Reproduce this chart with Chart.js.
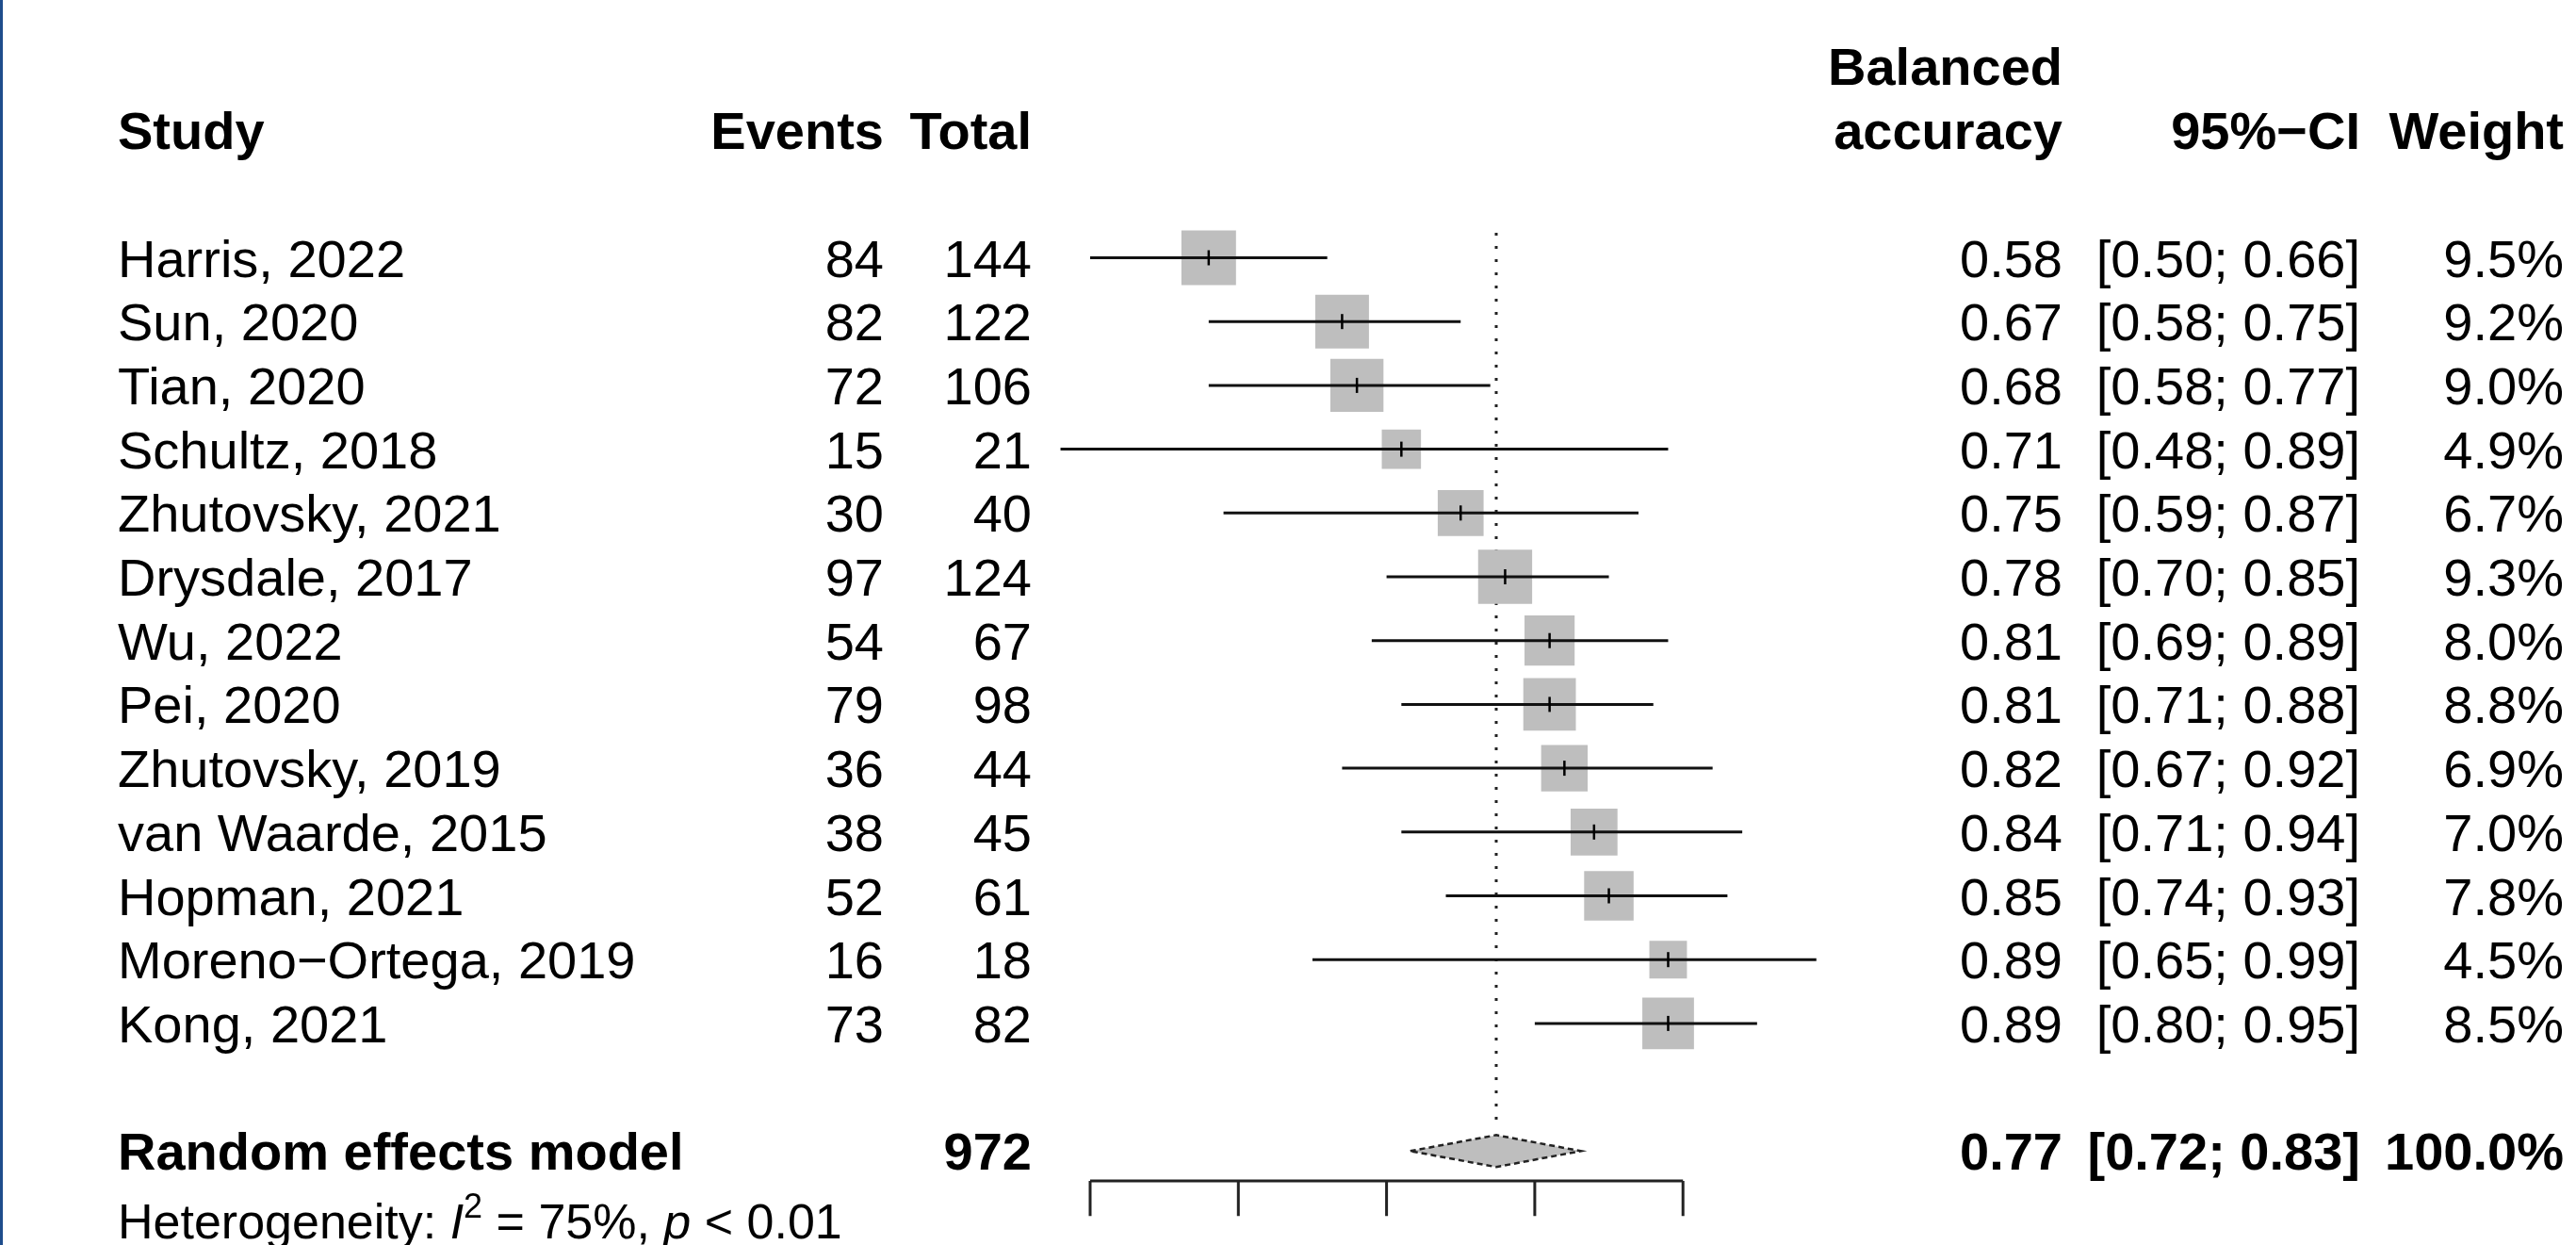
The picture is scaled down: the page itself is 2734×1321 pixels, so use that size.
<!DOCTYPE html>
<html>
<head>
<meta charset="utf-8">
<title>Forest plot - balanced accuracy</title>
<script src="https://cdn.jsdelivr.net/npm/chart.js@4.4.1/dist/chart.umd.min.js"></script>
<style>
html, body { margin: 0; padding: 0; background: #fff; overflow: hidden; }
#wrap { position: relative; width: 2734px; height: 1321px; }
#edge { position: absolute; left: 0; top: 0; width: 3px; height: 1321px; background: #1e4d8c; }
</style>
</head>
<body>
<div id="wrap">
  <canvas id="forest"></canvas>
  <div id="edge"></div>
</div>
<script>
// study data, top to bottom
const studies = ["Harris, 2022", "Sun, 2020", "Tian, 2020", "Schultz, 2018", "Zhutovsky, 2021",
    "Drysdale, 2017", "Wu, 2022", "Pei, 2020", "Zhutovsky, 2019", "van Waarde, 2015",
    "Hopman, 2021", "Moreno\u2212Ortega, 2019", "Kong, 2021"];
const events = [84, 82, 72, 15, 30, 97, 54, 79, 36, 38, 52, 16, 73];
const totals = [144, 122, 106, 21, 40, 124, 67, 98, 44, 45, 61, 18, 82];
const estimate = [0.58, 0.67, 0.68, 0.71, 0.75, 0.78, 0.81, 0.81, 0.82, 0.84, 0.85, 0.89, 0.89];
const lower = [0.50, 0.58, 0.58, 0.48, 0.59, 0.70, 0.69, 0.71, 0.67, 0.71, 0.74, 0.65, 0.80];
const upper = [0.66, 0.75, 0.77, 0.89, 0.87, 0.85, 0.89, 0.88, 0.92, 0.94, 0.93, 0.99, 0.95];
const weights = [9.5, 9.2, 9.0, 4.9, 6.7, 9.3, 8.0, 8.8, 6.9, 7.0, 7.8, 4.5, 8.5];

// random effects model
const pooledEst = 0.774;
const pooledLower = 0.716;
const pooledUpper = 0.831;
const pooledTotal = 972;
const pooledWeight = 100.0;
const heterogeneityI2 = "75%";
const heterogeneityP = "< 0.01";

const axisTicks = [0.5, 0.6, 0.7, 0.8, 0.9];

// layout (pixels)
const W = 2734, H = 1321;
const ROW0 = 273.5;      // pixel of first study row
const ROW_H = 67.7;      // row spacing
const X_AT_05 = 1157;    // pixel of 0.5 on the axis
const X_UNIT = 1573;     // pixels per 1.0
const FONT = '"Liberation Sans", Arial, sans-serif';
const FS = 56;
const col = { study: 125, events: 938, total: 1095, est: 2189, ci: 2505, weight: 2721 };
const pooledRow = 14;
const hetRow = 15.1;
const axisRow = 14.47;
const tickEndRow = 15.02;

const boxData = [], ciData = [], tickData = [], boxRadius = [];
studies.forEach((s, i) => {
    boxData.push({ x: estimate[i], y: i });
    boxRadius.push(18.8 * Math.sqrt(weights[i]) / Math.SQRT2);
    ciData.push({ x: lower[i], y: i }, { x: upper[i], y: i }, { x: upper[i], y: null });
    tickData.push({ x: estimate[i], y: i });
});

const diamondHalf = 0.25;
const diamondData = [
    { x: pooledLower, y: pooledRow },
    { x: pooledEst, y: pooledRow - diamondHalf },
    { x: pooledUpper, y: pooledRow },
    { x: pooledEst, y: pooledRow + diamondHalf },
    { x: pooledLower, y: pooledRow }
];

const refLineData = [{ x: pooledEst, y: -0.39 }, { x: pooledEst, y: 13.62 }];

const axisData = [
    { x: axisTicks[0], y: axisRow },
    { x: axisTicks[axisTicks.length - 1], y: axisRow },
    { x: axisTicks[0], y: null }
];
axisTicks.forEach(t => {
    axisData.push({ x: t, y: axisRow }, { x: t, y: tickEndRow }, { x: t, y: null });
});

const tablePlugin = {
    id: 'forestTable',
    afterDatasetsDraw(chart) {
        const ctx = chart.ctx;
        const yScale = chart.scales.y;
        const rowY = r => yScale.getPixelForValue(r);

        function put(txt, x, row, align, bold, size) {
            size = size || FS;
            ctx.font = (bold ? 'bold ' : '') + size + 'px ' + FONT;
            ctx.textAlign = align;
            ctx.fillText(txt, x, rowY(row) + size * 0.716 / 2);
        }

        ctx.save();
        ctx.fillStyle = '#000';
        ctx.textBaseline = 'alphabetic';

        // header
        put("Study", col.study, -2, 'left', true);
        put("Events", col.events, -2, 'right', true);
        put("Total", col.total, -2, 'right', true);
        put("Balanced", col.est, -3, 'right', true);
        put("accuracy", col.est, -2, 'right', true);
        put("95%\u2212CI", col.ci, -2, 'right', true);
        put("Weight", col.weight, -2, 'right', true);

        // studies
        studies.forEach((s, i) => {
            put(s, col.study, i, 'left', false);
            put(String(events[i]), col.events, i, 'right', false);
            put(String(totals[i]), col.total, i, 'right', false);
            put(estimate[i].toFixed(2), col.est, i, 'right', false);
            put("[" + lower[i].toFixed(2) + "; " + upper[i].toFixed(2) + "]", col.ci, i, 'right', false);
            put(weights[i].toFixed(1) + "%", col.weight, i, 'right', false);
        });

        // pooled
        put("Random effects model", col.study, pooledRow, 'left', true);
        put(String(pooledTotal), col.total, pooledRow, 'right', true);
        put(pooledEst.toFixed(2), col.est, pooledRow, 'right', true);
        put("[" + pooledLower.toFixed(2) + "; " + pooledUpper.toFixed(2) + "]", col.ci, pooledRow, 'right', true);
        put(pooledWeight.toFixed(1) + "%", col.weight, pooledRow, 'right', true);

        // heterogeneity line with italic I, superscript 2 and italic p
        const hs = 52;
        const base = rowY(hetRow) + hs * 0.716 / 2;
        let x = col.study;
        ctx.textAlign = 'left';
        const parts = [
            ["Heterogeneity: ", '', hs, 0],
            ["I", 'italic ', hs, 0],
            ["2", '', 36, -22],
            [" = " + heterogeneityI2 + ", ", '', hs, 0],
            ["p", 'italic ', hs, 0],
            [" " + heterogeneityP, '', hs, 0]
        ];
        parts.forEach(p => {
            ctx.font = p[1] + p[2] + 'px ' + FONT;
            ctx.fillText(p[0], x, base + p[3]);
            x += ctx.measureText(p[0]).width;
        });

        ctx.restore();
    }
};

new Chart(document.getElementById('forest'), {
    type: 'scatter',
    data: {
        datasets: [
            {
                label: 'estimate',
                data: tickData,
                pointStyle: 'line',
                rotation: 90,
                pointRadius: 8,
                pointBorderWidth: 2.5,
                pointBorderColor: '#000',
                order: 1
            },
            {
                label: 'ci',
                data: ciData,
                showLine: true,
                borderColor: '#111',
                borderWidth: 3,
                pointRadius: 0,
                spanGaps: false,
                order: 2
            },
            {
                label: 'weight',
                data: boxData,
                pointStyle: 'rect',
                pointRadius: boxRadius,
                pointBackgroundColor: '#bebebe',
                pointBorderWidth: 0,
                order: 3
            },
            {
                label: 'pooled',
                data: diamondData,
                showLine: true,
                fill: 'shape',
                backgroundColor: '#bebebe',
                borderColor: '#222',
                borderWidth: 2.5,
                borderDash: [6, 4],
                pointRadius: 0,
                tension: 0,
                order: 4
            },
            {
                label: 'axis',
                data: axisData,
                showLine: true,
                borderColor: '#222',
                borderWidth: 3,
                pointRadius: 0,
                spanGaps: false,
                order: 5
            },
            {
                label: 'reference',
                data: refLineData,
                showLine: true,
                borderColor: '#222',
                borderWidth: 3,
                borderDash: [3, 11],
                pointRadius: 0,
                order: 6
            }
        ]
    },
    options: {
        responsive: true,
        maintainAspectRatio: false,
        animation: false,
        events: [],
        layout: { padding: 0, autoPadding: false },
        plugins: {
            legend: { display: false },
            tooltip: { enabled: false }
        },
        scales: {
            x: {
                type: 'linear',
                display: false,
                bounds: 'data',
                min: 0.5 - X_AT_05 / X_UNIT,
                max: 0.5 + (W - X_AT_05) / X_UNIT
            },
            y: {
                type: 'linear',
                display: false,
                reverse: true,
                bounds: 'data',
                min: -ROW0 / ROW_H,
                max: (H - ROW0) / ROW_H
            }
        }
    },
    plugins: [tablePlugin]
});
</script>
</body>
</html>
